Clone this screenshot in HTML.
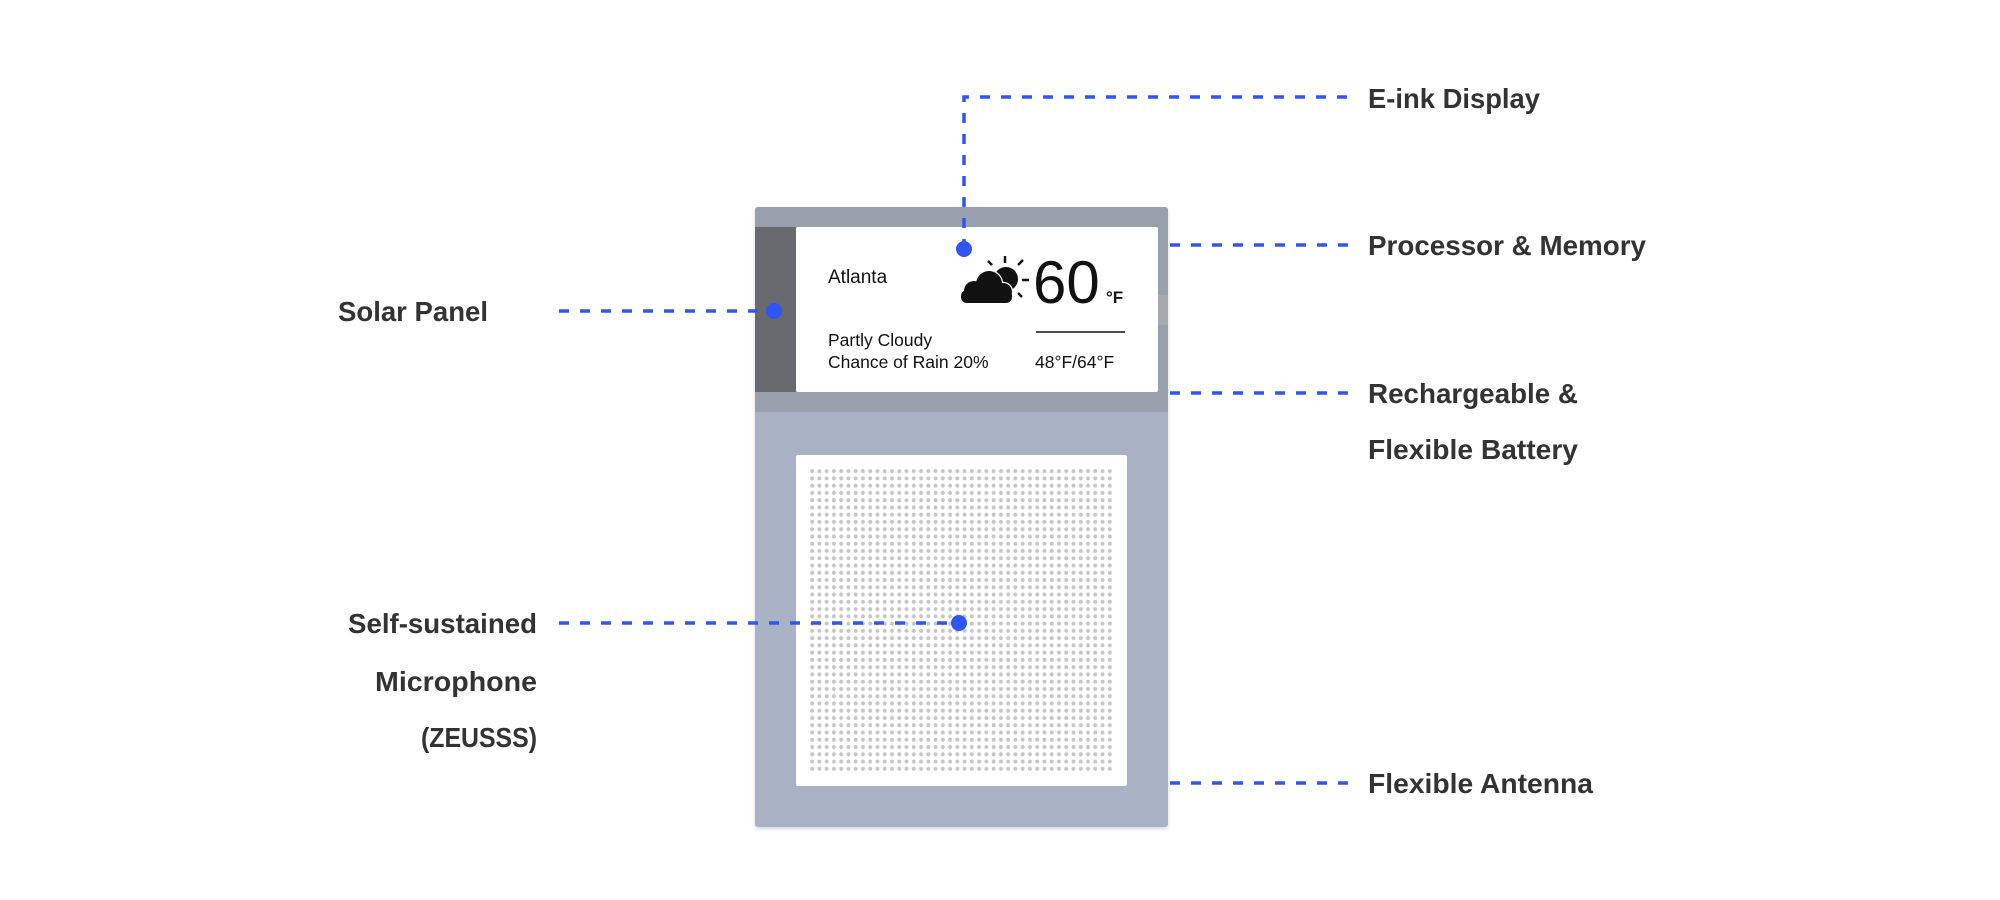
<!DOCTYPE html>
<html><head><meta charset="utf-8"><style>
html,body{margin:0;padding:0;background:#fff;width:2000px;height:900px;overflow:hidden}
svg text{font-family:"Liberation Sans",sans-serif}
</style></head><body>
<svg width="2000" height="900" viewBox="0 0 2000 900" xmlns="http://www.w3.org/2000/svg">
<defs>
<pattern id="dots" x="808.5" y="467.5" width="7.26" height="7.26" patternUnits="userSpaceOnUse">
<circle cx="3.63" cy="3.63" r="2" fill="#c6c6c6"/>
</pattern>
<filter id="sh" x="-5%" y="-5%" width="110%" height="110%"><feDropShadow dx="0" dy="2" stdDeviation="2" flood-color="#000" flood-opacity="0.15"/></filter>
</defs>
<rect x="755" y="207" width="413" height="620" rx="3" fill="#a8b2c4" filter="url(#sh)"/>
<rect x="755" y="207" width="413" height="205" rx="3" fill="#99a0ad"/>
<rect x="755" y="400" width="413" height="12" fill="#99a0ad"/>
<rect x="1158" y="295" width="10" height="30" fill="#a7a9ad"/>
<rect x="755" y="227" width="41" height="165" fill="#686a6f"/>
<rect x="796" y="227" width="362" height="165" rx="2" fill="#fff"/>
<text x="828" y="283" font-size="19" fill="#111">Atlanta</text>
<text x="828" y="346" font-size="17.5" fill="#111">Partly Cloudy</text>
<text x="828" y="368" font-size="17.5" fill="#111">Chance of Rain 20%</text>
<text x="1033" y="303" font-size="60" fill="#111">60</text>
<text x="1106" y="303" font-size="17" font-weight="bold" fill="#111">°F</text>
<line x1="1036" y1="332" x2="1125" y2="332" stroke="#111" stroke-width="1.5"/>
<text x="1035" y="368" font-size="17.5" fill="#111">48°F/64°F</text>
<!-- weather icon -->
<g stroke="#111" stroke-width="2.5">
<line x1="1005" y1="256" x2="1005" y2="263"/>
<line x1="1018" y1="265" x2="1023" y2="260"/>
<line x1="1022" y1="280" x2="1029" y2="280"/>
<line x1="1018" y1="293" x2="1022" y2="297"/>
<line x1="992" y1="265" x2="988" y2="261"/>
</g>
<circle cx="1006" cy="279" r="12" fill="#111"/>
<g fill="#111" stroke="#fff" stroke-width="2.5">
<circle cx="974" cy="291" r="10"/>
<circle cx="989" cy="284" r="13"/>
<circle cx="1003" cy="292" r="9"/>
</g>
<g fill="#111">
<circle cx="974" cy="291" r="10"/>
<circle cx="989" cy="284" r="13"/>
<circle cx="1003" cy="292" r="9"/>
<rect x="961" y="290" width="51" height="13" rx="6"/>
</g>
<rect x="796" y="455" width="331" height="331" rx="2" fill="#fff"/>
<rect x="808.5" y="467.5" width="305" height="305" fill="url(#dots)"/>
<g stroke="#2f55f5" stroke-width="3.5" fill="none" stroke-dasharray="10 11">
<polyline points="964,249 964,97 1348,97"/>
<line x1="559" y1="311" x2="774" y2="311"/>
<line x1="559" y1="623" x2="959" y2="623"/>
<line x1="1170" y1="245" x2="1348" y2="245"/>
<line x1="1170" y1="393" x2="1348" y2="393"/>
<line x1="1170" y1="783" x2="1348" y2="783"/>
</g>
<g fill="#2f55f5">
<circle cx="964" cy="249" r="8"/>
<circle cx="774" cy="311" r="8"/>
<circle cx="959" cy="623" r="8"/>
</g>
<g font-size="28" font-weight="bold" fill="#333">
<text x="1368" y="108" textLength="172" lengthAdjust="spacingAndGlyphs">E-ink Display</text>
<text x="1368" y="255" textLength="278" lengthAdjust="spacingAndGlyphs">Processor &amp; Memory</text>
<text x="1368" y="403" textLength="210" lengthAdjust="spacingAndGlyphs">Rechargeable &amp;</text>
<text x="1368" y="459" textLength="210" lengthAdjust="spacingAndGlyphs">Flexible Battery</text>
<text x="1368" y="793" textLength="225" lengthAdjust="spacingAndGlyphs">Flexible Antenna</text>
<text x="338" y="321" textLength="150" lengthAdjust="spacingAndGlyphs">Solar Panel</text>
<text x="348" y="633" textLength="189" lengthAdjust="spacingAndGlyphs">Self-sustained</text>
<text x="375" y="691" textLength="162" lengthAdjust="spacingAndGlyphs">Microphone</text>
<text x="421" y="747" textLength="116" lengthAdjust="spacingAndGlyphs">(ZEUSSS)</text>
</g>
</svg>
</body></html>
